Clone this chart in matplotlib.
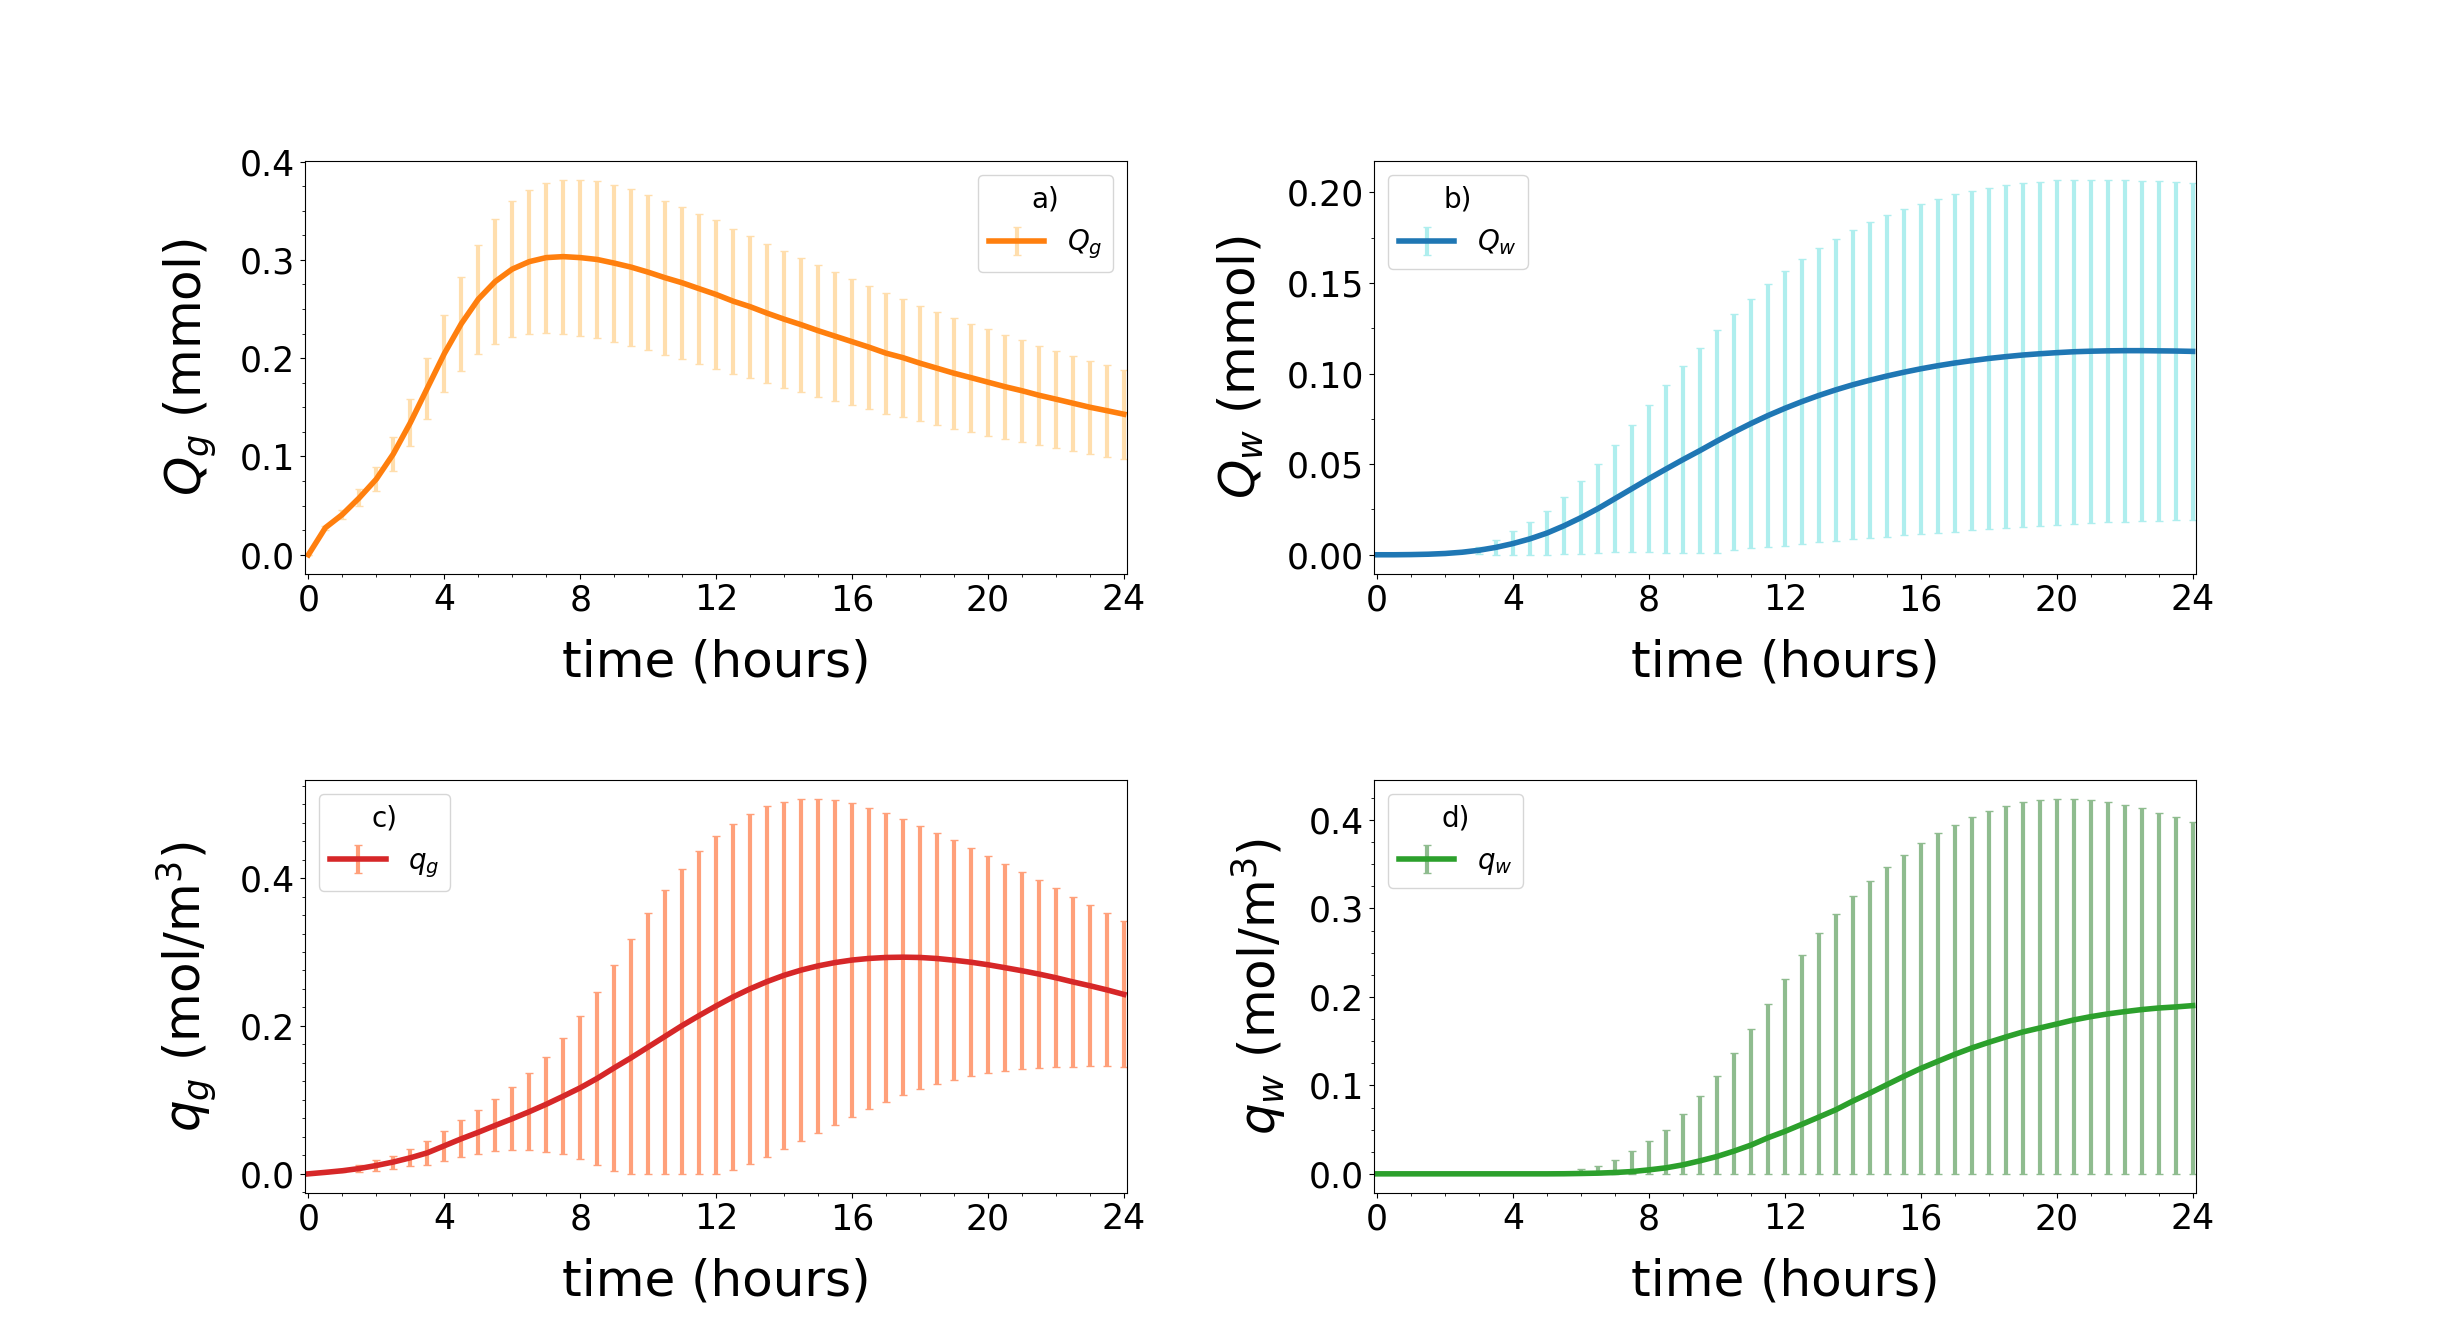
import numpy as np
import matplotlib
matplotlib.use("Agg")
import matplotlib.pyplot as plt
from matplotlib.ticker import MultipleLocator

# time grid (hours), one point every half hour
t = np.arange(0, 24.5, 0.5)

# a) Q_g (mmol)
Qg_mean = [0, 0.0275, 0.041, 0.058, 0.077, 0.1026, 0.1343, 0.1695, 0.2046, 0.235,
           0.260, 0.278, 0.2906, 0.2982, 0.3023, 0.3033, 0.3023, 0.3004, 0.2967, 0.2926,
           0.2875, 0.2818, 0.2767, 0.2707, 0.2648, 0.258, 0.2524, 0.2458, 0.2397, 0.2341,
           0.228, 0.2224, 0.2168, 0.2112, 0.2051, 0.2005, 0.1949, 0.1898, 0.1847, 0.1802,
           0.1756, 0.171, 0.1669, 0.1623, 0.1583, 0.1542, 0.1501, 0.1466, 0.143]
Qg_std = [0, 0.002, 0.005, 0.0085, 0.0124, 0.0175, 0.0237, 0.031, 0.039, 0.048,
          0.0555, 0.0633, 0.069, 0.0733, 0.0763, 0.0784, 0.0794, 0.0802, 0.0799, 0.0799,
          0.0789, 0.0785, 0.0775, 0.0763, 0.0755, 0.0738, 0.0723, 0.0707, 0.0697, 0.0682,
          0.0672, 0.0656, 0.0641, 0.0626, 0.0616, 0.060, 0.0585, 0.0575, 0.0565, 0.055,
          0.0545, 0.0529, 0.0519, 0.0504, 0.0494, 0.0483, 0.0473, 0.0468, 0.0453]

# b) Q_w (mmol)
Qw_mean = [0, 0, 0.0001, 0.0003, 0.0007, 0.0014, 0.0025, 0.0041, 0.0062, 0.0088,
           0.012, 0.016, 0.0205, 0.0255, 0.031, 0.0365, 0.042, 0.0473, 0.0525, 0.0575,
           0.0627, 0.0677, 0.0724, 0.0768, 0.0808, 0.0845, 0.0879, 0.091, 0.0938, 0.0963,
           0.0986, 0.1007, 0.1026, 0.1043, 0.1058, 0.1071, 0.1083, 0.1093, 0.1102, 0.1109,
           0.1115, 0.112, 0.1123, 0.1125, 0.1126, 0.1126, 0.1125, 0.1124, 0.1122]
Qw_std = [0, 0, 0, 0.0001, 0.0003, 0.0006, 0.002, 0.0042, 0.0067, 0.0091,
          0.012, 0.0157, 0.0201, 0.0245, 0.0295, 0.0351, 0.0405, 0.0462, 0.0517, 0.0565,
          0.0615, 0.0651, 0.0689, 0.0725, 0.0758, 0.0786, 0.0811, 0.0833, 0.0853, 0.0872,
          0.0888, 0.0899, 0.091, 0.0921, 0.093, 0.0935, 0.0941, 0.0946, 0.0949, 0.095,
          0.095, 0.0949, 0.0946, 0.0944, 0.0944, 0.0938, 0.0936, 0.0931, 0.0928]

# c) q_g (mol/m^3)
qg_mean = [0, 0.002, 0.0042, 0.0072, 0.0113, 0.016, 0.0217, 0.0284, 0.0379, 0.0474,
           0.0562, 0.0655, 0.0745, 0.084, 0.0941, 0.105, 0.1163, 0.1291, 0.1433, 0.157,
           0.1715, 0.186, 0.2005, 0.214, 0.227, 0.2392, 0.2502, 0.26, 0.2685, 0.2755,
           0.2812, 0.2857, 0.2891, 0.2913, 0.2926, 0.293, 0.2926, 0.2912, 0.2889, 0.2862,
           0.2828, 0.2788, 0.2747, 0.2702, 0.2652, 0.2596, 0.2544, 0.2488, 0.2427]
qg_std = [0, 0.001, 0.002, 0.0041, 0.0068, 0.0088, 0.0117, 0.0158, 0.0199, 0.0253,
          0.030, 0.0352, 0.0424, 0.0519, 0.0639, 0.0788, 0.0968, 0.1165, 0.1388, 0.160,
          0.1806, 0.1977, 0.2117, 0.223, 0.2299, 0.2336, 0.2366, 0.237, 0.235, 0.2316,
          0.2262, 0.2199, 0.2126, 0.2041, 0.1957, 0.1869, 0.1781, 0.170, 0.1625, 0.1544,
          0.147, 0.1402, 0.1334, 0.1271, 0.1212, 0.1147, 0.109, 0.1034, 0.0986]

# d) q_w (mol/m^3)
qw_mean = [0, 0, 0, 0, 0, 0, 0, 0, 0, 0,
           0, 0.0001, 0.0004, 0.0008, 0.0015, 0.0026, 0.0045, 0.0068, 0.0102, 0.0147,
           0.0196, 0.0257, 0.0325, 0.0408, 0.048, 0.056, 0.0642, 0.0725, 0.0823, 0.0913,
           0.1008, 0.1102, 0.1192, 0.1272, 0.1351, 0.1423, 0.1487, 0.1547, 0.1604, 0.1649,
           0.1694, 0.174, 0.1777, 0.1808, 0.1834, 0.1857, 0.1875, 0.1887, 0.1902]
qw_std = [0, 0, 0, 0, 0, 0, 0, 0, 0, 0,
          0, 0.0018, 0.0046, 0.0083, 0.0147, 0.0227, 0.0321, 0.043, 0.057, 0.0728,
          0.0914, 0.1109, 0.1317, 0.1517, 0.1728, 0.1915, 0.2083, 0.2211, 0.232, 0.24,
          0.2464, 0.2506, 0.2551, 0.2585, 0.2596, 0.2615, 0.2619, 0.2615, 0.2604, 0.2581,
          0.2548, 0.2502, 0.2453, 0.24, 0.234, 0.2283, 0.2208, 0.2151, 0.2079]

panels = [
    (Qg_mean, Qg_std, "tab:orange", "navajowhite", "$Q_g$", "$Q_g$ (mmol)", "a)", "upper right"),
    (Qw_mean, Qw_std, "tab:blue", "paleturquoise", "$Q_w$", "$Q_w$ (mmol)", "b)", "upper left"),
    (qg_mean, qg_std, "tab:red", "lightsalmon", "$q_g$", "$q_g$ (mol/m$^3$)", "c)", "upper left"),
    (qw_mean, qw_std, "tab:green", "darkseagreen", "$q_w$", "$q_w$ (mol/m$^3$)", "d)", "upper left"),
]

fig, axes = plt.subplots(2, 2, figsize=(24.4, 13.4), dpi=100)
plt.subplots_adjust(wspace=0.3, hspace=0.5)

for ax, (mean, std, col, ecol, lab, ylab, title, loc) in zip(axes.flat, panels):
    mean = np.array(mean)
    std = np.array(std)
    lower = np.minimum(std, mean)      # concentrations can't go below zero
    ax.errorbar(t, mean, yerr=[lower, std], color=col, ecolor=ecol,
                lw=4, elinewidth=3, capsize=3, label=lab)
    ax.set_xlim(-0.1, 24.1)
    ax.set_xticks(np.arange(0, 25, 4))
    ax.xaxis.set_minor_locator(MultipleLocator(1))
    ax.yaxis.set_minor_locator(MultipleLocator(0.025))
    ax.tick_params(axis="both", which="major", labelsize=25)
    ax.set_xlabel("time (hours)", fontsize=36, labelpad=15)
    ax.set_ylabel(ylab, fontsize=36, labelpad=15)
    ax.legend(loc=loc, title=title, fontsize=20, title_fontsize=20)

fig.savefig("out.png")
